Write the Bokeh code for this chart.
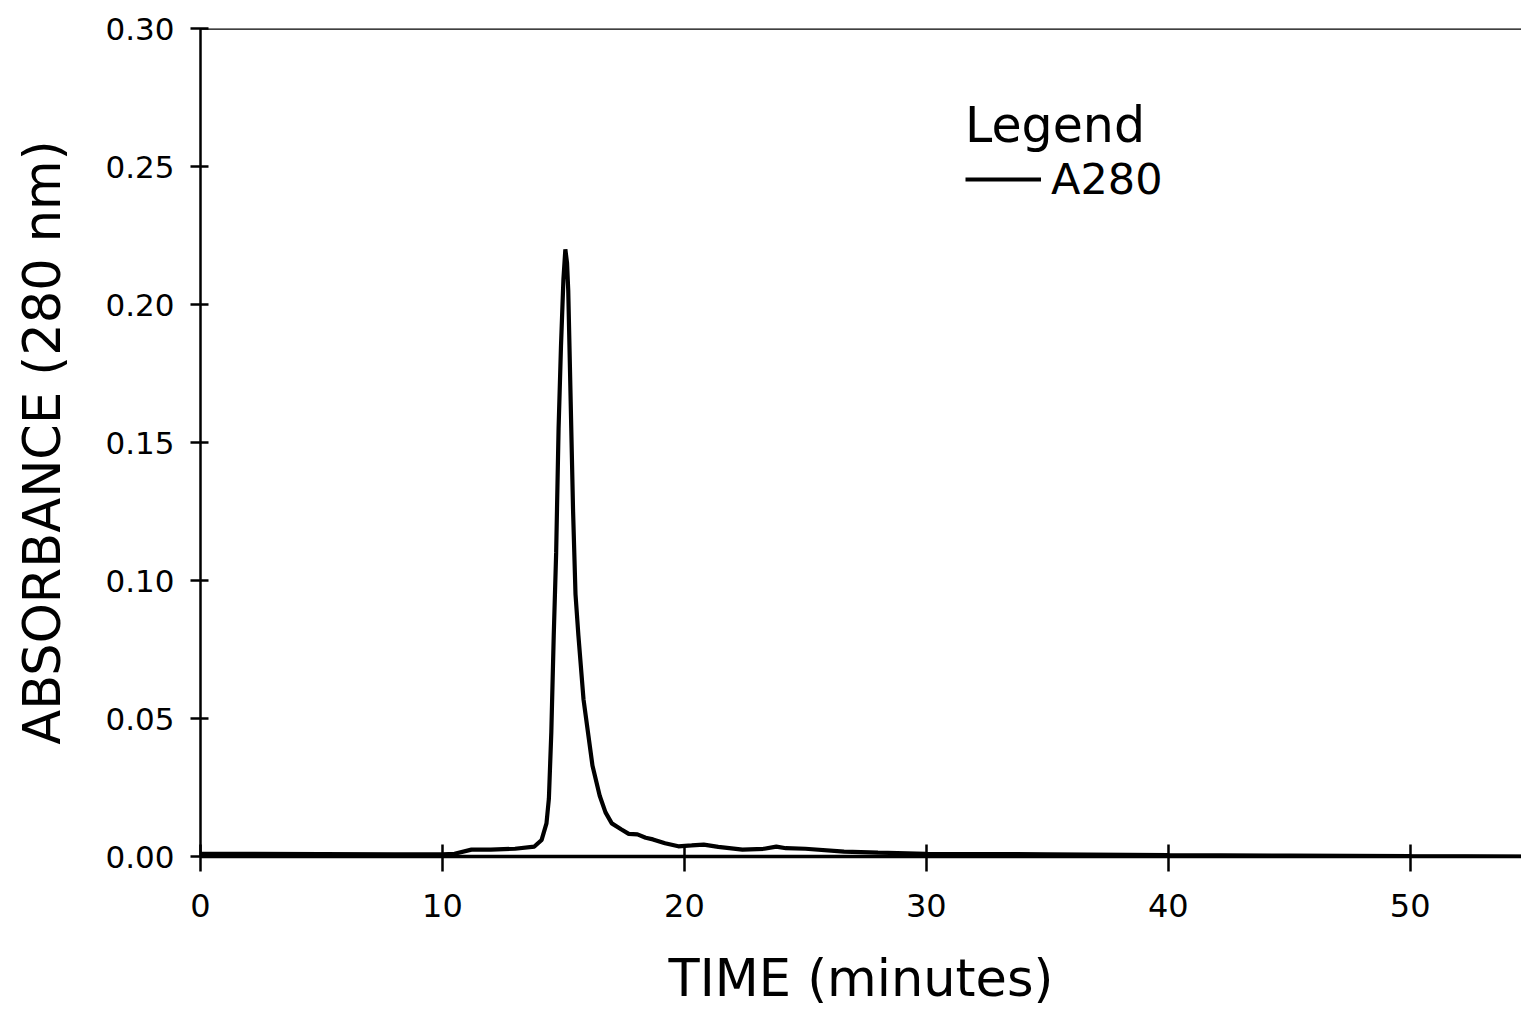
from bokeh.plotting import figure
from bokeh.models import (FixedTicker, NumeralTickFormatter, Span, Legend, LegendItem)
from bokeh.embed import file_html
from bokeh.resources import INLINE

# ---- data ----
time_min = [0, 2, 5, 8, 10, 10.5, 11.2, 12, 13, 13.8, 14.1, 14.3, 14.4, 14.5, 14.6,
            14.7, 14.8, 14.9, 15.0, 15.08, 15.15, 15.2, 15.3, 15.4, 15.5, 15.62, 15.83,
            16.2, 16.5, 16.74, 17.0, 17.4, 17.7, 18.06, 18.4, 18.7, 19.2, 19.75, 20.3,
            20.8, 21.4, 22.4, 23.3, 23.8, 24.2, 25, 26.6, 28, 30, 35, 40, 45, 50, 54.6]
a280 = [0.001, 0.001, 0.0009, 0.0008, 0.0008, 0.001, 0.0025, 0.0025, 0.0028, 0.0036,
        0.006, 0.012, 0.021, 0.045, 0.08, 0.11, 0.155, 0.185, 0.209, 0.220, 0.215,
        0.205, 0.165, 0.125, 0.095, 0.08, 0.057, 0.033, 0.022, 0.016, 0.012, 0.0098,
        0.0082, 0.008, 0.0068, 0.0062, 0.0048, 0.0037, 0.004, 0.0043, 0.0035, 0.0025,
        0.0028, 0.0036, 0.003, 0.0028, 0.0018, 0.0014, 0.001, 0.0008, 0.0005, 0.0003,
        0.0001, 0.0]
x_ticks = [0, 10, 20, 30, 40, 50]
y_ticks = [0.0, 0.05, 0.10, 0.15, 0.20, 0.25, 0.30]
series_name = "A280"
legend_title = "Legend"
x_title = "TIME (minutes)"
y_title = "ABSORBANCE (280 nm)"

FONT = "DejaVu Sans"

p = figure(width=1521, height=1010, output_backend="svg", toolbar_location=None,
           x_range=(0, 54.6), y_range=(0, 0.30),
           min_border_left=200, min_border_top=28, min_border_right=0,
           min_border_bottom=153)
p.outline_line_color = None
p.grid.visible = False
p.background_fill_color = "white"

r = p.line(time_min, a280, line_color="black", line_width=4.2)

for ax in (p.xaxis[0], p.yaxis[0]):
    ax.axis_line_color = "black"
    ax.major_tick_line_color = "black"
    ax.major_tick_line_width = 2.5
    ax.minor_tick_line_color = None
    ax.major_label_text_font = FONT
    ax.major_label_text_color = "black"
    ax.axis_label_text_font = FONT
    ax.axis_label_text_font_style = "normal"
    ax.axis_label_text_color = "black"

xa = p.xaxis[0]
xa.ticker = FixedTicker(ticks=x_ticks)
xa.axis_line_width = 3.5
xa.major_tick_in = 12
xa.major_tick_out = 15
xa.major_label_text_font_size = "32px"
xa.major_label_standoff = 22
xa.axis_label = x_title
xa.axis_label_text_font_size = "51px"
xa.axis_label_standoff = 29

ya = p.yaxis[0]
ya.ticker = FixedTicker(ticks=y_ticks)
ya.formatter = NumeralTickFormatter(format="0.00")
ya.axis_line_width = 2.5
ya.major_tick_in = 8
ya.major_tick_out = 10
ya.major_label_text_font_size = "31px"
ya.major_label_standoff = 16
ya.axis_label = y_title
ya.axis_label_text_font_size = "51px"
ya.axis_label_standoff = 30

p.add_layout(Span(location=0.30, dimension="width", line_color="black", line_width=2.5))

leg = Legend(items=[LegendItem(label=series_name, renderers=[r])],
             title=legend_title, location=(765, 652),
             title_text_font=FONT, title_text_font_size="49px",
             title_text_font_style="normal", title_text_color="black",
             label_text_font=FONT, label_text_font_size="43px", label_text_color="black",
             glyph_width=76, glyph_height=36, label_standoff=10,
             padding=0, margin=0, spacing=0, title_standoff=0,
             border_line_color=None, background_fill_alpha=0)
p.add_layout(leg)

open("out.html", "w").write(file_html(p, INLINE))
